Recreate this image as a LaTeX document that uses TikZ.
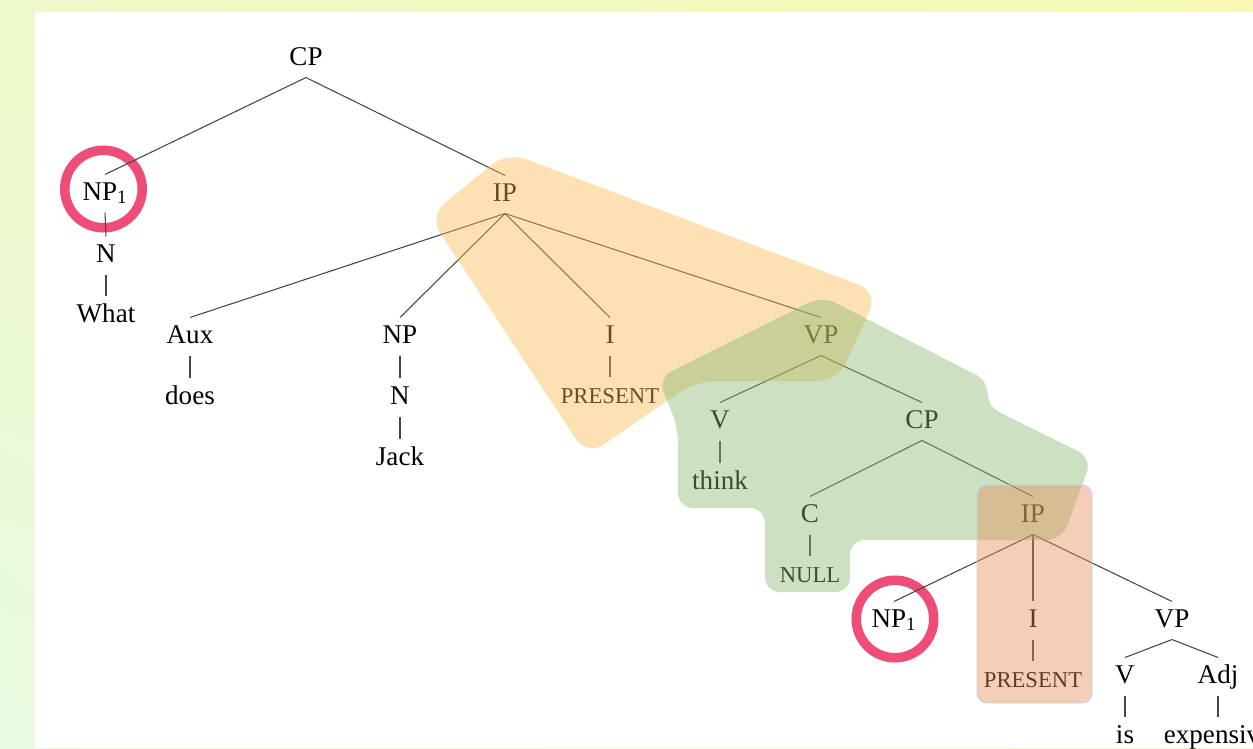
\documentclass[tikz,border=0pt]{standalone}
\usepackage{fontspec}
\setmainfont{Liberation Serif}
\usetikzlibrary{positioning,shadings}

\definecolor{ringred}{RGB}{240,76,120}
\definecolor{hlorange}{RGB}{249,185,73}
\definecolor{hlgreen}{RGB}{135,185,110}
\definecolor{hlsalmon}{RGB}{232,140,85}
\definecolor{hlrim}{RGB}{190,210,235}
\definecolor{branchgray}{RGB}{70,70,70}
\definecolor{bgul}{RGB}{238,249,200}
\definecolor{bgur}{RGB}{247,248,180}
\definecolor{bgll}{RGB}{232,250,225}
\definecolor{bglr}{RGB}{240,250,210}

\newcommand{\smallcap}[1]{{\fontsize{12.9}{15}\selectfont #1}}

\begin{document}
\begin{tikzpicture}[x=0.02cm,y=-0.02cm,semithick]
	  \tikzstyle{every node}=[font=\fontsize{15.4}{18}\selectfont]
	  \tikzstyle{cat}=[anchor=base,inner sep=0pt,text height=0.5cm,text depth=0.24cm]
	  \tikzstyle{branch}=[color=branchgray,line width=0.6pt]
	  \tikzstyle{ring}=[circle,draw=ringred,line width=0.19cm,inner sep=0pt,minimum size=1.55cm]
	  \tikzstyle{blob}=[fill opacity=0.42]

	  \useasboundingbox (0,0) rectangle (1253,748);
	  \shade[upper left=bgul,upper right=bgur,lower left=bgll,lower right=bglr] (0,0) rectangle (1253,748);
	  \fill[white] (35,12) rectangle (1253,748);

	  \node[ring] (ringA) at (103.5,189) {};
	  \node[ring] (ringB) at (895,619) {};

	  \node[cat] (cp) at (306,65) {CP};
	  \node[cat] (np1) at (105,200) {NP\textsubscript{1}};
	  \node[cat] (n1) at (106,262) {N};
	  \node[cat] (what) at (106,322) {What};
	  \node[cat] (ip) at (505,201) {IP};
	  \node[cat] (aux) at (190,343) {Aux};
	  \node[cat] (does) at (190,404) {does};
	  \node[cat] (np) at (400,343) {NP};
	  \node[cat] (n2) at (400,404) {N};
	  \node[cat] (jack) at (400,465) {Jack};
	  \node[cat] (i) at (610,343) {I};
	  \node[cat] (pres) at (610,403) {\smallcap{PRESENT}};
	  \node[cat] (vp) at (821,343) {VP};
	  \node[cat] (v) at (720,428) {V};
	  \node[cat] (think) at (720,489) {think};
	  \node[cat] (cp2) at (922,428) {CP};
	  \node[cat] (c) at (810,522) {C};
	  \node[cat] (null) at (810,582) {\smallcap{NULL}};
	  \node[cat] (ip2) at (1033,522) {IP};
	  \node[cat] (np1b) at (894,627) {NP\textsubscript{1}};
	  \node[cat] (i2) at (1033,627) {I};
	  \node[cat] (pres2) at (1033,687) {\smallcap{PRESENT}};
	  \node[cat] (vp2) at (1172,627) {VP};
	  \node[cat] (v2) at (1125,683) {V};
	  \node[cat] (adj) at (1218,683) {Adj};
	  \node[cat] (is) at (1125,743) {is};
	  \node[cat] (expensive) at (1218,743) {expensive};

	  \path[branch] (cp.south) edge (np1.north) edge (ip.north)
	  (np1.south) edge (n1.north)
	  (n1.south) edge (what.north)
	  (ip.south) edge (aux.north) edge (np.north) edge (i.north) edge (vp.north)
	  (aux.south) edge (does.north)
	  (np.south) edge (n2.north)
	  (n2.south) edge (jack.north)
	  (i.south) edge (pres.north)
	  (vp.south) edge (v.north) edge (cp2.north)
	  (v.south) edge (think.north)
	  (cp2.south) edge (c.north) edge (ip2.north)
	  (c.south) edge (null.north)
	  (ip2.south) edge (np1b.north) edge (i2.north) edge (vp2.north)
	  (i2.south) edge (pres2.north)
	  (vp2.south) edge (v2.north) edge (adj.north)
	  (v2.south) edge (is.north)
	  (adj.south) edge (expensive.north);

	  % highlighted regions
	  \fill[blob,hlorange,rounded corners=0.4cm] (429,216) -- (507,152) -- (878,292) -- (838,381)
	    -- (696,381) -- (587,456) -- cycle;
	  \fill[blob,hlgreen,rounded corners=0.3cm] (822,296) -- (990,382) -- (985,405) -- (1092,458)
	    -- (1062,540) -- (850,540) -- (850,592) -- (765,592) -- (765,508) -- (678,508)
	    -- (678,428) -- (658,378) -- cycle;
	  \filldraw[blob,fill=hlsalmon,draw=hlrim,line width=0.5pt,
	    rounded corners=0.2cm] (977,485) rectangle (1092,703);
	\end{tikzpicture}
\end{document}
